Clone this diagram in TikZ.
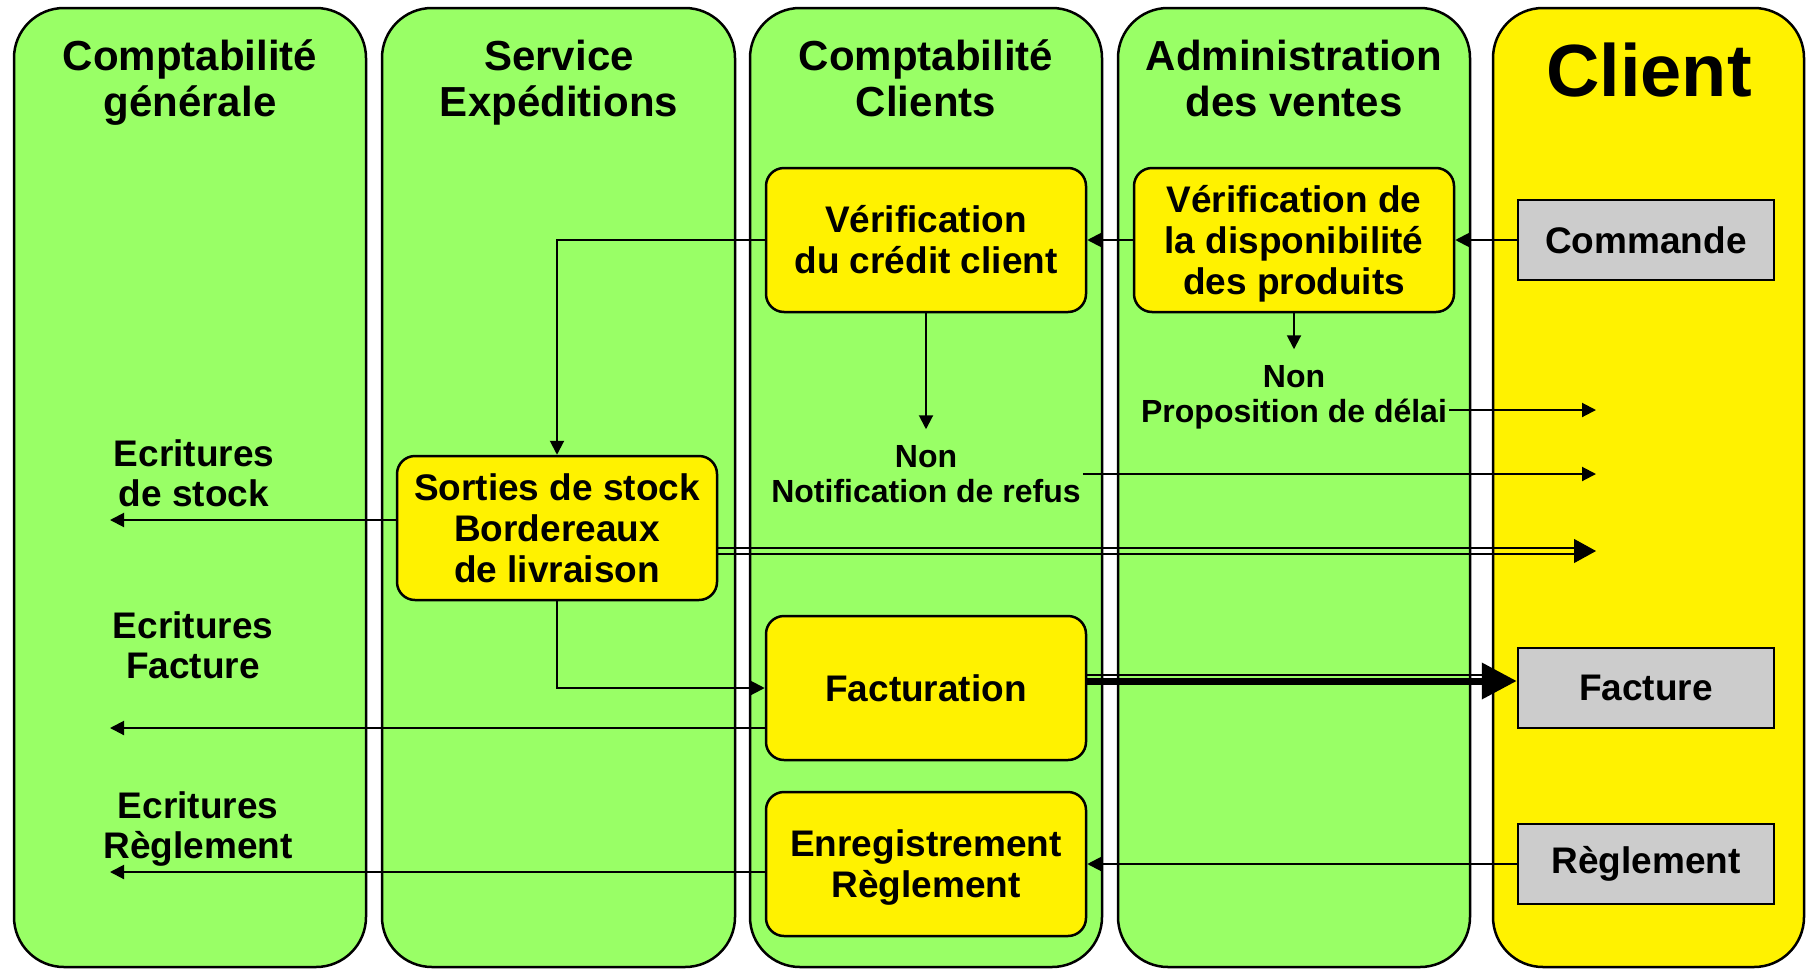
\documentclass[tikz,border=0pt]{standalone}
\usepackage{fontspec}
\setmainfont{Liberation Sans}
\usetikzlibrary{arrows.meta,calc}
\definecolor{lanegreen}{HTML}{99FF66}
\definecolor{docgray}{HTML}{CCCCCC}
\newcommand{\myfs}[2]{\fontsize{#1}{#2}\selectfont\bfseries}
\begin{document}
\begin{tikzpicture}[x=1pt,y=-1pt,
 lane/.style={draw,line width=2.5pt,rounded corners=50pt},
 proc/.style={draw,line width=2.5pt,rounded corners=18pt,fill=yellow,minimum width=320pt,minimum height=144pt,align=center,font=\myfs{37}{41},inner sep=0pt},
 doc/.style={draw,line width=2.5pt,fill=docgray,minimum width=256pt,minimum height=80pt,font=\myfs{37}{41},inner sep=0pt},
 head/.style={align=center,font=\myfs{42}{46}},
 lbl/.style={align=center,font=\myfs{37}{40}},
 small/.style={align=center,font=\myfs{32}{35},inner sep=2pt},
 arr/.style={line width=2pt,-{Triangle[length=14pt,width=14pt]}},
 ln/.style={line width=2pt}]
\useasboundingbox (0,0) rectangle (1806,972);
% lanes
\draw[lane,fill=lanegreen] (14,8) rectangle (366,967);
\draw[lane,fill=lanegreen] (382,8) rectangle (735,967);
\draw[lane,fill=lanegreen] (750,8) rectangle (1102,967);
\draw[lane,fill=lanegreen] (1118,8) rectangle (1470,967);
\draw[lane,fill=yellow] (1493,8) rectangle (1804,967);
% headers
\node[head] (h1) at (190,83) {Comptabilité\\générale};
\node[head] (h2) at (559,83) {Service\\Expéditions};
\node[head] (h3) at (926,78) {Comptabilité\\Clients};
\node[head] (h4) at (1294,78) {Administration\\des ventes};
\node[font=\myfs{74}{80}] (h5) at (1649,70) {Client};
% boxes
\node[proc] (cred) at (926,240) {Vérification\\du crédit client};
\node[proc] (dispo) at (1294,240) {\rule{0pt}{34pt}Vérification de\\la disponibilité\\des produits};
\node[doc] (cmd) at (1646,240) {Commande};
\node[proc] (sort) at (557,528) {Sorties de stock\\Bordereaux\\de livraison};
\node[proc] (fact) at (926,688) {Facturation};
\node[proc] (enr) at (926,864) {\rule{0pt}{34pt}Enregistrement\\Règlement};
\node[doc] (fac) at (1646,688) {Facture};
\node[doc] (reg) at (1646,864) {Règlement};
% labels
\node[small] (nonA) at (926,474) {Non\\Notification de refus};
\node[small] (nonB) at (1294,397) {Non\\Proposition de délai};
\node[lbl] (ls) at (194,473) {Ecritures\\de stock};
\node[lbl] (lf) at (193,645) {Ecritures\\Facture};
\node[lbl] (lr) at (198,829) {Ecritures\\Règlement};
% helper coordinates
\coordinate (L) at (110,0);
\coordinate (R) at (1596,0);
\coordinate (pB) at ($(nonB.east)+(0,13)$);
\coordinate (s1) at ($(sort.east)+(0,20)$);
\coordinate (s2) at ($(sort.east)+(0,26)$);
\coordinate (s3) at ($(sort.east)+(0,23)$);
\coordinate (sw) at ($(sort.west)+(0,-8)$);
\coordinate (fw) at ($(fact.west)+(0,40)$);
\coordinate (ew) at ($(enr.west)+(0,8)$);
\coordinate (f1) at ($(fact.east)+(0,-13)$);
\coordinate (f2) at ($(fact.east)+(0,-7)$);
% connectors
\draw[arr] (cmd.west) -- (dispo.east);
\draw[arr] (dispo.west) -- (cred.east);
\draw[arr] (cred.west) -| (sort.north);
\draw[arr] (cred.south) -- ++(0,116);
\draw[arr] (dispo.south) -- ++(0,36);
\draw[arr] (nonA.east) -- (R |- nonA.east);
\draw[arr] (pB) -- (R |- pB);
\draw[ln] (s1) -- ($(R |- s1)+(-20,0)$);
\draw[ln] (s2) -- ($(R |- s2)+(-20,0)$);
\draw[line width=1pt,-{Triangle[length=22pt,width=24pt]}] ($(R |- s3)+(-22,0)$) -- (R |- s3);
\draw[ln] (f1) -- ($(fac.west |- f1)+(-34,0)$);
\draw[line width=7pt,-{Triangle[length=35pt,width=35pt]}] (f2) -- (fac.west |- f2);
\draw[arr] (sw) -- (L |- sw);
\draw[arr] (fw) -- (L |- fw);
\draw[arr] (ew) -- (L |- ew);
\draw[arr] (reg.west) -- (enr.east);
\draw[arr] (sort.south) |- (fact.west);
\end{tikzpicture}
\end{document}
